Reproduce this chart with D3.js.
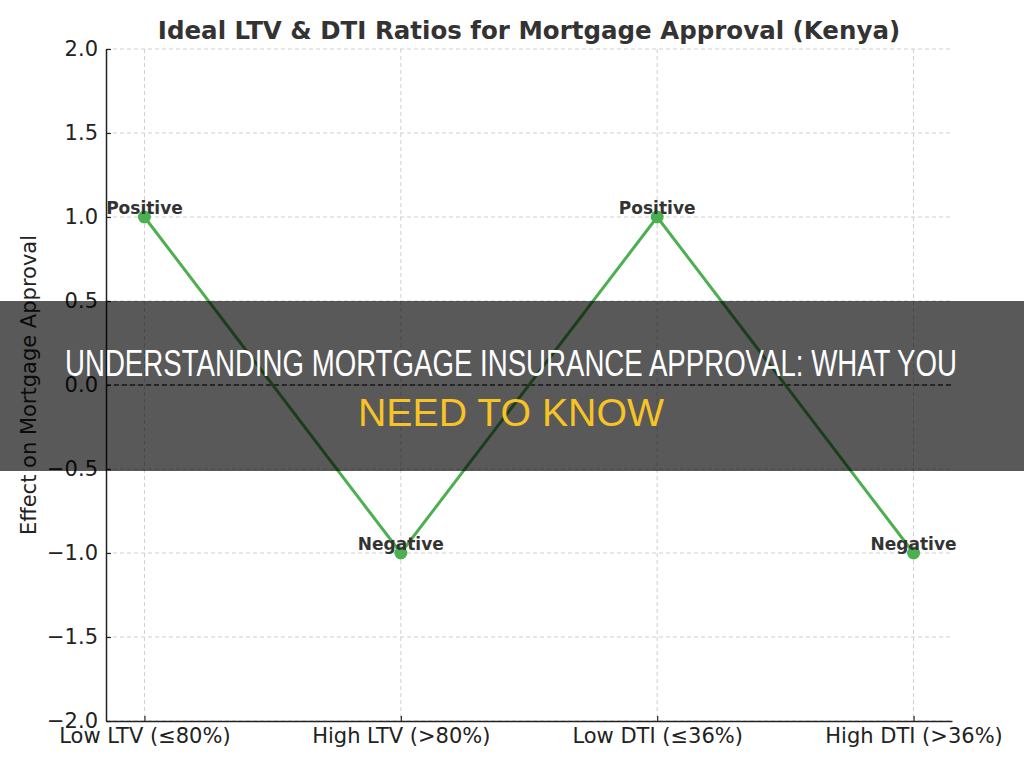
<!DOCTYPE html>
<html><head><meta charset="utf-8">
<script src="https://cdn.jsdelivr.net/npm/d3@7"></script>
<style>html,body{margin:0;padding:0;background:#fff;}svg{display:block;}</style>
</head><body>
<svg id="c" width="1024" height="768"></svg>
<script>
const categories = ["Low LTV (≤80%)", "High LTV (>80%)", "Low DTI (≤36%)", "High DTI (>36%)"];
const effects = [1, -1, 1, -1];
const pointLabels = ["Positive", "Negative", "Positive", "Negative"];
const yTicks = [-2.0, -1.5, -1.0, -0.5, 0.0, 0.5, 1.0, 1.5, 2.0];
const titleText = "Ideal LTV & DTI Ratios for Mortgage Approval (Kenya)";
const yLabel = "Effect on Mortgage Approval";
const bannerLine1 = "UNDERSTANDING MORTGAGE INSURANCE APPROVAL: WHAT YOU";
const bannerLine2 = "NEED TO KNOW";

const svg = d3.select("#c");
const L = 106, R = 952, T = 49, B = 721;
const font = "'DejaVu Sans', sans-serif";

const x = d3.scaleLinear().domain([-0.15, categories.length - 1 + 0.15]).range([L, R]);
const y = d3.scaleLinear().domain([-2, 2]).range([B, T]);

// grid
const g = svg.append("g");
g.selectAll(".hg").data(yTicks).enter().append("line")
  .attr("x1", L).attr("x2", R).attr("y1", d => y(d)).attr("y2", d => y(d))
  .attr("stroke", "#cfcfcf").attr("stroke-width", 1).attr("stroke-dasharray", "4,3");
g.selectAll(".vg").data(categories).enter().append("line")
  .attr("x1", (d, i) => x(i)).attr("x2", (d, i) => x(i)).attr("y1", T).attr("y2", B)
  .attr("stroke", "#cfcfcf").attr("stroke-width", 1).attr("stroke-dasharray", "4,3");

// zero line
svg.append("line").attr("x1", L).attr("x2", R).attr("y1", y(0)).attr("y2", y(0))
  .attr("stroke", "#444").attr("stroke-width", 1.5).attr("stroke-dasharray", "5,3");

// axes
const yAxis = d3.axisLeft(y).tickValues(yTicks).tickSizeInner(-5).tickSizeOuter(0).tickPadding(8)
  .tickFormat(d => d3.format(".1f")(d).replace("-", "\u2212"));
const ya = svg.append("g").attr("transform", `translate(${L},0)`).call(yAxis);
ya.select(".domain").attr("stroke", "#222").attr("stroke-width", 1.5);
ya.selectAll(".tick line").attr("stroke", "#222").attr("stroke-width", 1.2);
ya.selectAll(".tick text").attr("font-family", font).attr("font-size", 21).attr("fill", "#222");

const xAxis = d3.axisBottom(x).tickValues(d3.range(categories.length)).tickSizeInner(-5).tickSizeOuter(0).tickPadding(7)
  .tickFormat(i => categories[i]);
const xa = svg.append("g").attr("transform", `translate(0,${B})`).call(xAxis);
xa.select(".domain").attr("stroke", "#222").attr("stroke-width", 1.5);
xa.selectAll(".tick line").attr("stroke", "#222").attr("stroke-width", 1.2);
xa.selectAll(".tick text").attr("font-family", font).attr("font-size", 21).attr("fill", "#222");

// line + points
const line = d3.line().x((d, i) => x(i)).y(d => y(d));
svg.append("path").datum(effects).attr("d", line).attr("fill", "none")
  .attr("stroke", "#4caf50").attr("stroke-width", 3);
svg.selectAll(".pt").data(effects).enter().append("circle")
  .attr("cx", (d, i) => x(i)).attr("cy", d => y(d)).attr("r", 6.5).attr("fill", "#4caf50");
svg.selectAll(".pl").data(effects).enter().append("text")
  .attr("x", (d, i) => x(i)).attr("y", d => y(d) - 3)
  .attr("text-anchor", "middle").attr("font-family", font).attr("font-weight", "bold")
  .attr("font-size", 17).attr("fill", "#333").text((d, i) => pointLabels[i]);

// title
svg.append("text").attr("x", (L + R) / 2).attr("y", 39).attr("text-anchor", "middle")
  .attr("font-family", font).attr("font-weight", "bold").attr("font-size", 24.5).attr("fill", "#333")
  .text(titleText);

// y label
svg.append("text").attr("transform", `translate(36,${(T + B) / 2}) rotate(-90)`)
  .attr("text-anchor", "middle").attr("font-family", font).attr("font-size", 21).attr("fill", "#222")
  .text(yLabel);

// banner
svg.append("rect").attr("x", 0).attr("y", 301).attr("width", 1024).attr("height", 170)
  .attr("fill", "rgba(0,0,0,0.65)");
const bfont = "'Liberation Sans', Arial, sans-serif";
svg.append("text").attr("x", 511).attr("y", 376).attr("text-anchor", "middle")
  .attr("font-family", bfont).attr("font-size", 36).attr("fill", "#ffffff")
  .attr("textLength", 892).attr("lengthAdjust", "spacingAndGlyphs").text(bannerLine1);
svg.append("text").attr("x", 511).attr("y", 426).attr("text-anchor", "middle")
  .attr("font-family", bfont).attr("font-size", 38).attr("fill", "#f7c325")
  .attr("textLength", 306).attr("lengthAdjust", "spacingAndGlyphs").text(bannerLine2);
</script>
</body></html>
